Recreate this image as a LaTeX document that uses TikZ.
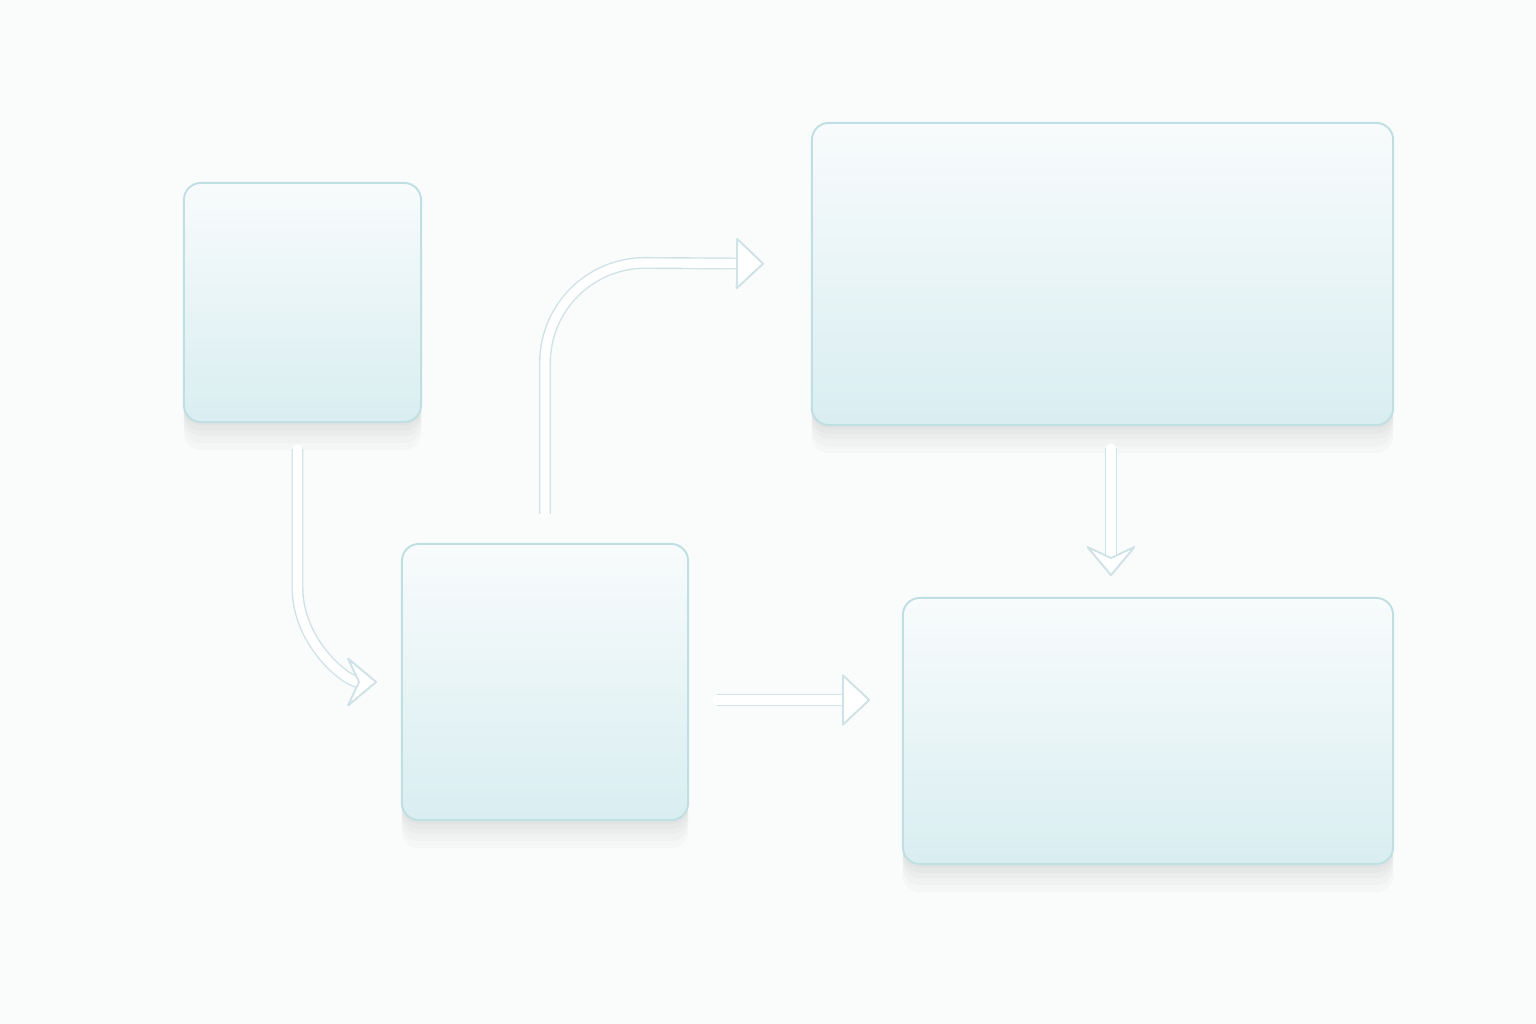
\documentclass[tikz,border=0pt]{standalone}
\usetikzlibrary{arrows.meta, calc}
\definecolor{pagebg}{HTML}{FAFBFB}
\definecolor{glassedge}{HTML}{C0DFE3}
\definecolor{glasstop}{HTML}{F8FBFC}
\definecolor{glassbot}{HTML}{D9EEF1}
\definecolor{tubeedge}{HTML}{CFE2E5}
\tikzset{
  haze/.style={preaction={fill=black, fill opacity=0.018, transform canvas={yshift=-#1}}},
  glass/.style={draw=glassedge, line width=0.55pt, rounded corners=0.17cm, top color=glasstop, bottom color=glassbot,
    haze=1pt, haze=2.5pt, haze=4pt, haze=6pt, haze=8pt},
  tube/.style={draw=white, line width=2.6pt, line cap=round, -{#1},
    preaction={draw=tubeedge, line width=3.4pt, -{#1}}},
  tube/.default={Triangle[round, length=8pt, width=15pt, color=tubeedge, fill=white, line width=0.5pt]},
  bent/.style={tube={Stealth[round, length=9pt, width=15pt, inset=3.5pt, color=tubeedge, fill=white, line width=0.5pt]}}
}
\begin{document}
\begin{tikzpicture}[x=0.01cm, y=0.01cm]
  \fill[pagebg] (0, 0) rectangle (1536, 1024);
  \useasboundingbox (0, 0) rectangle (1536, 1024);
  \node[glass, minimum width=2.37cm, minimum height=2.39cm] (src) at (302.5, 721.5) {};
  \node[glass, minimum width=2.86cm, minimum height=2.76cm] (hub) at (545, 342) {};
  \node[glass, minimum width=5.81cm, minimum height=3.02cm] (wide) at (1102.5, 750) {};
  \node[glass, minimum width=4.90cm, minimum height=2.66cm] (sink) at (1148, 293) {};
  \coordinate (m3) at ($(hub.east)+(0, -18)$);
  \coordinate (m4) at ($(wide.south)+(8.5, 0)$);
  \draw[bent, shorten <=0.26cm, shorten >=0.24cm] ([xshift=-0.05cm]src.south) -- ++(0, -165) to[out=-90, in=180] (hub.west);
  \draw[tube, shorten <=0.29cm, shorten >=0.47cm] (hub.north) -- ++(0, 180) arc[start angle=180, end angle=90, radius=100] -- ($(wide.west)+(0, 10)$);
  \draw[tube, shorten <=0.28cm, shorten >=0.32cm] (m3) -- (m3 -| sink.west);
  \draw[bent, shorten <=0.22cm, shorten >=0.21cm] (m4) -- (m4 |- sink.north);
\end{tikzpicture}
\end{document}
